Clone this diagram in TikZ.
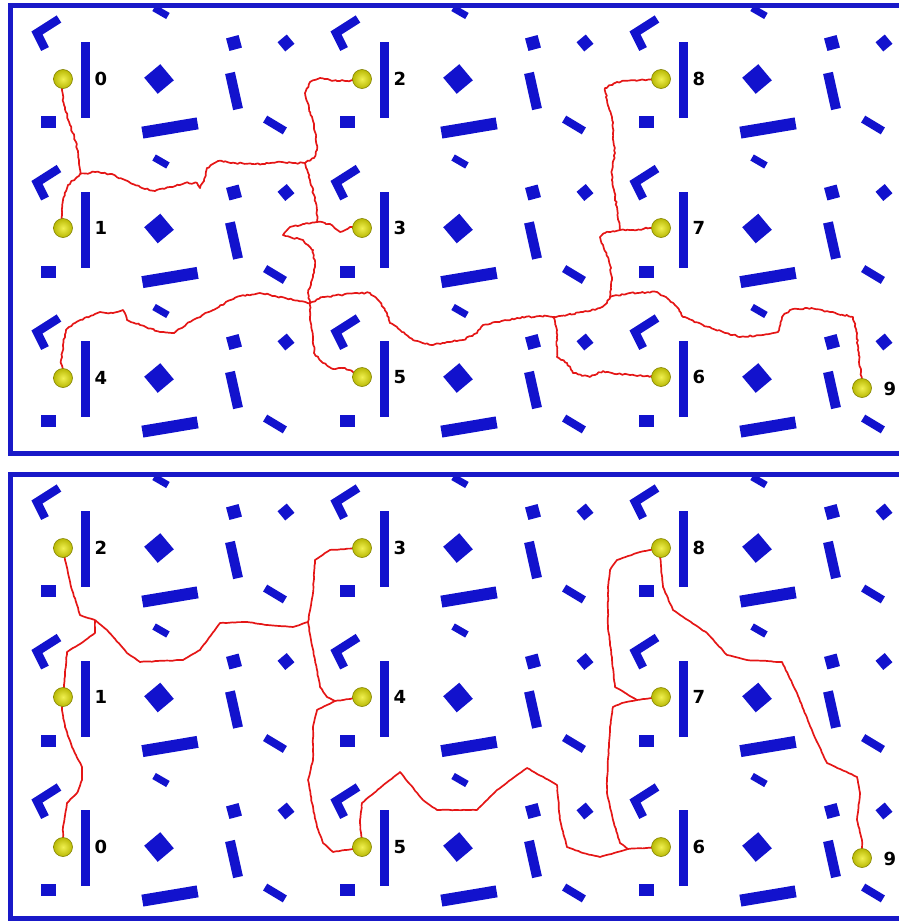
\documentclass[tikz,border=0pt]{standalone}
\usepackage{fontspec}
\newfontfamily\labfont{DejaVu Sans}
\usetikzlibrary{decorations.pathmorphing}
\pgfdeclarelayer{obs}
\pgfdeclarelayer{paths}
\pgfsetlayers{obs,paths,main}
\definecolor{obblue}{RGB}{18,18,205}
\definecolor{frblue}{RGB}{25,25,200}
\definecolor{pathred}{RGB}{228,22,22}
\definecolor{ballin}{RGB}{240,240,80}
\definecolor{ballout}{RGB}{185,185,5}
\definecolor{ballrim}{RGB}{130,130,0}
\tikzset{
 obst/.style={fill=obblue, draw=none},
 lshape/.style={draw=obblue, line width=8.5pt, line join=miter},
 sphere/.style={circle, minimum size=19pt, inner sep=0pt, shading=radial, inner color=ballin, outer color=ballout, draw=ballrim, line width=0.6pt},
 lab/.style={font=\labfont\bfseries\fontsize{18}{21}\selectfont, inner sep=0pt},
 rpath/.style={draw=pathred, line width=1.7pt, line join=round, decorate, decoration={random steps, segment length=2.5pt, amplitude=0.8pt}},
 spath/.style={draw=pathred, line width=1.7pt, line join=round, decorate, decoration={random steps, segment length=3pt, amplitude=0.3pt}},
 panelframe/.style={draw=frblue, line width=5pt},
}
\newcommand\rbox[5]{\fill[obst, shift={(#1,#2)}, rotate=#5] (-#3/2,-#4/2) rectangle (#3/2,#4/2);}
\newcommand\tile[2]{%
 \begin{scope}[shift={(#1,#2)}]
  \draw[lshape] (-4,-60) -- (-26,-46) -- (-18,-30);
  \rbox{22}{1}{9}{76}{0}
  \rbox{-15}{43}{15}{12}{0}
  \rbox{96}{0}{21}{21}{40}
  \rbox{107}{49}{56}{12}{9.5}
  \rbox{98}{-67}{16}{7}{-30}
  \rbox{171}{-36}{13}{13}{15}
  \rbox{223}{-36}{12}{12}{40}
  \rbox{171}{12}{37}{10}{102.5}
  \rbox{212}{46}{23}{8}{-31}
 \end{scope}}
\begin{document}
\begin{tikzpicture}[x=1pt,y=-1pt]
\pgfmathsetseed{4242}
\useasboundingbox (0,0) rectangle (899,921);
% obstacles
\begin{pgfonlayer}{obs}
\begin{scope}
 \clip (12.5,7.5) rectangle (899,450.5);
 \foreach \cx in {63,362,661} \foreach \cy in {79,228.5,378} {\tile{\cx}{\cy}}
\end{scope}
\begin{scope}
 \clip (12.5,476.5) rectangle (899,916);
 \foreach \cx in {63,362,661} \foreach \cy in {548,697.5,847} {\tile{\cx}{\cy}}
\end{scope}
\end{pgfonlayer}
% spheres top
\node[sphere] (t0) at (63,79) {};
\node[sphere] (t1) at (63,228) {};
\node[sphere] (t4) at (63,378) {};
\node[sphere] (t2) at (362,79) {};
\node[sphere] (t3) at (362,228) {};
\node[sphere] (t5) at (362,377) {};
\node[sphere] (t8) at (661,79) {};
\node[sphere] (t7) at (661,228) {};
\node[sphere] (t6) at (661,377) {};
\node[sphere] (t9) at (862,388) {};
\node[lab] (lt0) at (101,79) {0};
\node[lab] (lt1) at (101,228) {1};
\node[lab] (lt4) at (101,378) {4};
\node[lab] (lt2) at (400,79) {2};
\node[lab] (lt3) at (400,228) {3};
\node[lab] (lt5) at (400,377) {5};
\node[lab] (lt8) at (699,79) {8};
\node[lab] (lt7) at (699,228) {7};
\node[lab] (lt6) at (699,377) {6};
\node[lab] (lt9) at (890,389) {9};
% spheres bottom
\node[sphere] (b2) at (63,548) {};
\node[sphere] (b1) at (63,697) {};
\node[sphere] (b0) at (63,847) {};
\node[sphere] (b3) at (362,548) {};
\node[sphere] (b4) at (362,697) {};
\node[sphere] (b5) at (362,847) {};
\node[sphere] (b8) at (661,548) {};
\node[sphere] (b7) at (661,697) {};
\node[sphere] (b6) at (661,847) {};
\node[sphere] (b9) at (862,858) {};
\node[lab] (lb2) at (101,548) {2};
\node[lab] (lb1) at (101,697) {1};
\node[lab] (lb0) at (101,847) {0};
\node[lab] (lb3) at (400,548) {3};
\node[lab] (lb4) at (400,697) {4};
\node[lab] (lb5) at (400,847) {5};
\node[lab] (lb8) at (699,548) {8};
\node[lab] (lb7) at (699,697) {7};
\node[lab] (lb6) at (699,847) {6};
\node[lab] (lb9) at (890,859) {9};
% junctions
\coordinate (jA) at (80,174);
\coordinate (jB) at (305,163);
\coordinate (jC) at (317,222);
\coordinate (jD) at (310,303);
\coordinate (jE) at (553,317);
\coordinate (jF) at (610,297);
\coordinate (jG) at (620,230);
\coordinate (jH) at (95,620);
\coordinate (jI) at (308,622);
\coordinate (jJ) at (335,701);
\coordinate (jK) at (628,849);
\coordinate (jL) at (637,700);
\begin{pgfonlayer}{paths}
% top panel tree
\path[rpath] (t0.center) -- (62,90) -- (64,105) -- (70,125) -- (76,142) -- (79,160) -- (jA);
\path[rpath] (t1.center) -- (62,215) -- (63,200) -- (68,185) -- (jA);
\path[rpath] (jA) -- (95,172) -- (110,174) -- (125,180) -- (140,187) -- (155,191) -- (170,187) -- (185,183) -- (197,183) -- (200,188) -- (204,181) -- (207,168) -- (218,161) -- (235,163) -- (262,164) -- (282,162) -- (293,163) -- (jB);
\path[rpath] (t2.center) -- (345,81) -- (330,80) -- (320,78) -- (310,82) -- (305,93) -- (309,108) -- (313,121) -- (316,137) -- (317,150) -- (314,158) -- (jB);
\path[rpath] (jB) -- (310,180) -- (314,195) -- (317,210) -- (jC);
\path[rpath] (jC) -- (330,224) -- (340,232) -- (350,227) -- (t3.center);
\path[rpath] (jC) -- (303,224) -- (290,227) -- (283,235) -- (290,237) -- (303,240) -- (313,250) -- (315,267) -- (312,280) -- (308,293) -- (jD);
\path[rpath] (jD) -- (293,300) -- (275,296) -- (260,293) -- (240,296) -- (225,303) -- (213,310) -- (193,320) -- (173,333) -- (160,332) -- (140,325) -- (127,320) -- (123,310) -- (113,313) -- (100,312) -- (87,317) -- (75,323) -- (66,330) -- (63,345) -- (61,360) -- (t4.center);
\path[rpath] (jD) -- (310,320) -- (313,337) -- (314,353) -- (323,363) -- (333,369) -- (345,368) -- (t5.center);
\path[rpath] (jD) -- (323,297) -- (340,295) -- (357,293) -- (370,293) -- (380,302) -- (387,313) -- (390,323) -- (400,330) -- (413,340) -- (433,345) -- (447,342) -- (463,340) -- (477,333) -- (483,325) -- (497,322) -- (517,318) -- (540,316) -- (jE);
\path[rpath] (jE) -- (557,330) -- (557,357) -- (567,363) -- (573,373) -- (590,377) -- (603,371) -- (612,373) -- (630,375) -- (t6.center);
\path[rpath] (jE) -- (567,315) -- (583,312) -- (600,308) -- (607,303) -- (jF);
\path[rpath] (jF) -- (612,280) -- (610,265) -- (603,245) -- (600,237) -- (605,233) -- (jG);
\path[rpath] (jG) -- (633,230) -- (650,228) -- (t7.center);
\path[rpath] (jG) -- (617,207) -- (613,187) -- (612,170) -- (615,153) -- (613,133) -- (612,117) -- (607,100) -- (605,88) -- (617,82) -- (640,80) -- (t8.center);
\path[rpath] (jF) -- (630,293) -- (657,292) -- (667,298) -- (677,307) -- (683,317) -- (703,325) -- (723,332) -- (740,337) -- (763,335) -- (778,332) -- (782,317) -- (790,310) -- (807,308) -- (830,312) -- (853,317) -- (857,333) -- (858,350) -- (860,367) -- (t9.center);
% bottom panel tree
\path[spath] (b2.center) -- (65,560) -- (68,573) -- (72,590) -- (77,605) -- (80,615) -- (88,618) -- (jH);
\path[spath] (jH) -- (107,630) -- (127,653) -- (140,662) -- (183,660) -- (200,650) -- (220,623) -- (247,622) -- (267,625) -- (293,627) -- (jI);
\path[spath] (jH) -- (95,633) -- (83,642) -- (67,652) -- (65,673) -- (b1.center);
\path[spath] (b1.center) -- (62,710) -- (65,727) -- (72,747) -- (82,767) -- (82,780) -- (77,793) -- (67,803) -- (63,827) -- (b0.center);
\path[spath] (b3.center) -- (330,550) -- (315,560) -- (313,593) -- (jI);
\path[spath] (jI) -- (311,640) -- (315,660) -- (320,687) -- (327,697) -- (jJ) -- (b4.center);
\path[spath] (jJ) -- (327,705) -- (317,710) -- (313,727) -- (313,760) -- (308,780) -- (312,803) -- (317,827) -- (323,843) -- (333,852) -- (353,849) -- (b5.center);
\path[spath] (b5.center) -- (360,823) -- (362,803) -- (380,788) -- (400,772) -- (423,800) -- (437,810) -- (477,810) -- (497,790) -- (527,768) -- (557,785) -- (560,820) -- (567,847) -- (583,853) -- (600,857) -- (jK) -- (b6.center);
\path[spath] (jK) -- (620,843) -- (613,820) -- (607,793) -- (607,780) -- (610,727) -- (613,707) -- (622,703) -- (jL) -- (b7.center);
\path[spath] (jL) -- (615,687) -- (612,660) -- (608,627) -- (608,587) -- (610,570) -- (617,560) -- (640,552) -- (b8.center);
\path[spath] (b8.center) -- (660,557) -- (663,587) -- (673,610) -- (707,633) -- (727,655) -- (747,660) -- (782,662) -- (797,693) -- (813,733) -- (827,763) -- (857,777) -- (860,793) -- (857,820) -- (862,840) -- (b9.center);
\end{pgfonlayer}
% frames
\draw[panelframe] (905,5) -- (10,5) -- (10,453) -- (905,453);
\draw[panelframe] (905,474) -- (10,474) -- (10,918.5) -- (905,918.5);
\end{tikzpicture}
\end{document}
